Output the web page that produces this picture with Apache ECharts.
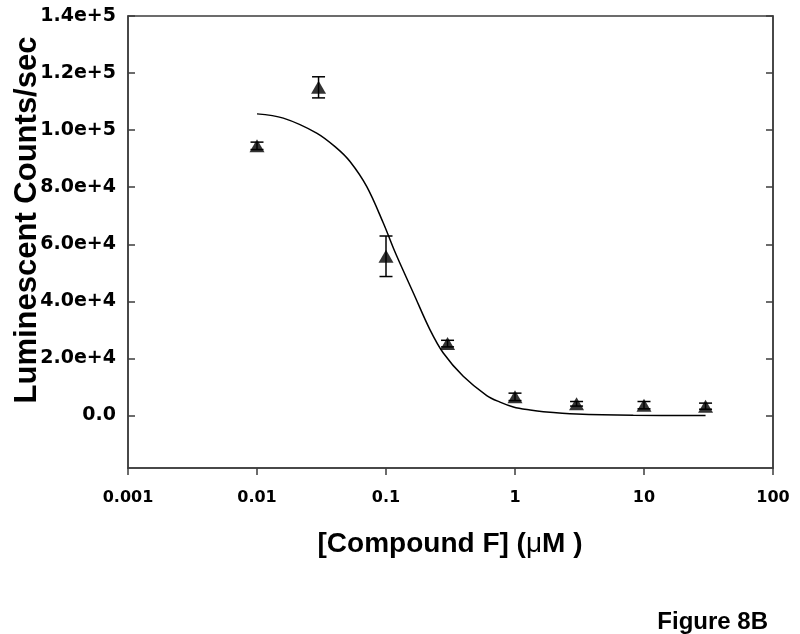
<!DOCTYPE html>
<html>
<head>
<meta charset="utf-8">
<script src="https://cdn.jsdelivr.net/npm/echarts@6/dist/echarts.min.js"></script>
<style>
  html, body { margin: 0; padding: 0; background: #fff; }
  #main { width: 800px; height: 634px; }
</style>
</head>
<body>
<div id="main"></div>
<script>
// 数据点（浓度 / 平均值 / 误差）
var conc = [0.01, 0.03, 0.1, 0.3, 1, 3, 10, 30];
var meanLum = [94500, 115000, 55800, 25200, 6530, 4100, 3620, 3270];
var errLum = [1300, 3700, 7100, 1150, 1300, 800, 1280, 1070];

// 拟合曲线（从图上读取的点）
var fitX = [0.01, 0.016, 0.029, 0.0415, 0.0526, 0.0708, 0.0953, 0.114, 0.128, 0.163, 0.219, 0.278, 0.397, 0.604, 0.765, 0.971, 1.31, 1.66, 3.0, 8.26, 30];
var fitY = [105700, 104200, 98950, 93700, 89000, 80270, 67450, 58700, 53450, 42950, 30100, 21900, 13750, 7000, 4700, 3000, 1900, 1300, 500, 80, 0];

// 刻度标签
var xTickLabels = ['0.001', '0.01', '0.1', '1', '10', '100'];
var yTickValues = [0, 20000, 40000, 60000, 80000, 100000, 120000, 140000];
var yTickLabels = ['0.0', '2.0e+4', '4.0e+4', '6.0e+4', '8.0e+4', '1.0e+5', '1.2e+5', '1.4e+5'];

var axisColor = '#3c3c3c';

var chart = echarts.init(document.getElementById('main'));

var pointData = conc.map(function (c, i) { return [c, meanLum[i]]; });
var errData = conc.map(function (c, i) { return [c, meanLum[i] - errLum[i], meanLum[i] + errLum[i]]; });
var fitData = fitX.map(function (c, i) { return [c, fitY[i]]; });

var option = {
    backgroundColor: '#fff',
    animation: false,
    grid: {
        left: 128,
        right: 27,
        top: 16,
        bottom: 166,
        show: true,
        borderColor: axisColor,
        borderWidth: 1.5
    },
    xAxis: {
        type: 'log',
        logBase: 10,
        min: 0.001,
        max: 100,
        splitLine: { show: false },
        axisLine: { show: true, onZero: false, lineStyle: { color: axisColor, width: 1.5 } },
        axisTick: { show: true, inside: false, length: 7, lineStyle: { color: axisColor, width: 1.5 } },
        minorTick: { show: false },
        axisLabel: {
            margin: 22,
            color: '#000',
            fontFamily: 'DejaVu Sans',
            fontWeight: 'bold',
            fontSize: 16,
            formatter: function (v) {
                var k = Math.round(Math.log(v) / Math.LN10) + 3;
                return xTickLabels[k] || '';
            }
        }
    },
    yAxis: [{
        type: 'value',
        min: -18400,
        max: 140000,
        position: 'left',
        splitLine: { show: false },
        axisLine: { show: true, onZero: false, lineStyle: { color: axisColor, width: 1.5 } },
        axisTick: { show: true, inside: true, length: 7, customValues: yTickValues, lineStyle: { color: axisColor, width: 1.5 } },
        axisLabel: {
            margin: 12,
            color: '#000',
            fontFamily: 'DejaVu Sans',
            fontWeight: 'bold',
            fontSize: 19,
            customValues: yTickValues,
            formatter: function (v) {
                var k = yTickValues.indexOf(Math.round(v));
                return k >= 0 ? yTickLabels[k] : '';
            }
        }
    }, {
        type: 'value',
        min: -18400,
        max: 140000,
        position: 'right',
        splitLine: { show: false },
        axisLine: { show: true, onZero: false, lineStyle: { color: axisColor, width: 1.5 } },
        axisTick: { show: true, inside: true, length: 7, customValues: yTickValues, lineStyle: { color: axisColor, width: 1.5 } },
        axisLabel: { show: false }
    }],
    series: [
        {
            name: 'fit',
            type: 'line',
            data: fitData,
            smooth: 0.35,
            showSymbol: false,
            symbol: 'none',
            lineStyle: { color: '#000', width: 1.5 },
            z: 2
        },
        {
            name: 'error',
            type: 'custom',
            data: errData,
            encode: { x: 0, y: [1, 2] },
            z: 3,
            renderItem: function (params, api) {
                var lo = api.coord([api.value(0), api.value(1)]);
                var hi = api.coord([api.value(0), api.value(2)]);
                var w = 6.5;
                var st = { stroke: '#000', lineWidth: 1.5 };
                return {
                    type: 'group',
                    children: [
                        { type: 'line', shape: { x1: hi[0], y1: hi[1], x2: lo[0], y2: lo[1] }, style: st },
                        { type: 'line', shape: { x1: hi[0] - w, y1: hi[1], x2: hi[0] + w, y2: hi[1] }, style: st },
                        { type: 'line', shape: { x1: lo[0] - w, y1: lo[1], x2: lo[0] + w, y2: lo[1] }, style: st }
                    ]
                };
            }
        },
        {
            name: 'points',
            type: 'scatter',
            data: pointData,
            symbol: 'triangle',
            symbolSize: [15, 13],
            itemStyle: { color: '#000' },
            z: 4
        }
    ],
    graphic: [
        {
            type: 'text',
            x: 27,
            y: 220,
            rotation: Math.PI / 2,
            style: {
                text: 'Luminescent Counts/sec',
                fontFamily: '"Liberation Sans", Arial, sans-serif',
                fontWeight: 'bold',
                fontSize: 31,
                fill: '#000',
                textAlign: 'center',
                textVerticalAlign: 'middle'
            }
        },
        {
            type: 'text',
            x: 450,
            y: 544,
            style: {
                text: '[Compound F] ({mu|μ}M )',
                rich: {
                    mu: {
                        fontFamily: '"Liberation Sans", Arial, sans-serif',
                        fontWeight: 'normal',
                        fontSize: 28,
                        fill: '#000'
                    }
                },
                fontFamily: '"Liberation Sans", Arial, sans-serif',
                fontWeight: 'bold',
                fontSize: 28,
                fill: '#000',
                textAlign: 'center',
                textVerticalAlign: 'middle'
            }
        },
        {
            type: 'text',
            x: 768,
            y: 622,
            style: {
                text: 'Figure 8B',
                fontFamily: '"Liberation Sans", Arial, sans-serif',
                fontWeight: 'bold',
                fontSize: 24,
                fill: '#000',
                textAlign: 'right',
                textVerticalAlign: 'middle'
            }
        }
    ]
};

chart.setOption(option);
window.addEventListener('resize', function () {
    chart.resize();
});
</script>
</body>
</html>
